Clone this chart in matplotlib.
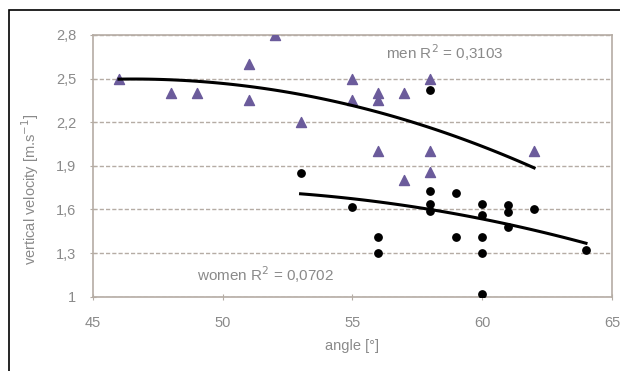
import numpy as np
import matplotlib.pyplot as plt
from matplotlib.patches import Rectangle

plt.rcParams['font.family'] = ['Liberation Sans', 'DejaVu Sans']

# men (triangles)
men_angle = [46, 48, 49, 51, 51, 52, 53, 55, 55, 56, 56, 56, 57, 57, 58, 58, 58, 62]
men_vel = [2.5, 2.4, 2.4, 2.6, 2.35, 2.8, 2.2, 2.5, 2.35, 2.4, 2.35, 2.0, 2.4, 1.8, 2.5, 2.0, 1.86, 2.0]

# women (dots)
women_angle = [53, 55, 56, 56, 58, 58, 58, 58, 59, 59, 60, 60, 60, 60, 60, 61, 61, 61, 62, 64]
women_vel = [1.85, 1.62, 1.41, 1.30, 2.42, 1.73, 1.64, 1.59, 1.71, 1.41, 1.64, 1.56, 1.41, 1.30, 1.02,
             1.63, 1.58, 1.48, 1.60, 1.32]

yticks = [1, 1.3, 1.6, 1.9, 2.2, 2.5, 2.8]
ytick_labels = ["1", "1,3", "1,6", "1,9", "2,2", "2,5", "2,8"]
xticks = [45, 50, 55, 60, 65]

grid_col = "#b5aca4"
txt_col = "#8a8a8a"

fig = plt.figure(figsize=(6.2, 3.71), dpi=100)
ax = fig.add_axes([0.150, 0.200, 0.837, 0.706])

for y in yticks:
    ax.axhline(y, color=grid_col, lw=1.0, ls=(0, (3, 1.5)), zorder=0)

ax.scatter(men_angle, men_vel, marker="^", s=52, color="#6b5b9b", zorder=3)
ax.scatter(women_angle, women_vel, marker="o", s=28, color="black", zorder=3)

# 2nd order trendlines, fitted on the data
for xs, ys in [(men_angle, men_vel), (women_angle, women_vel)]:
    c = np.polyfit(xs, ys, 2)
    xx = np.linspace(min(xs), max(xs), 100)
    ax.plot(xx, np.polyval(c, xx), color="black", lw=2.2, zorder=4)

ax.text(56.3, 2.68, "men R$^2$ = 0,3103", color=txt_col, fontsize=11, ha="left", va="center")
ax.text(49.0, 1.15, "women R$^2$ = 0,0702", color=txt_col, fontsize=11, ha="left", va="center")

ax.set_xlim(45, 65)
ax.set_ylim(1, 2.8)
ax.set_xticks(xticks)
ax.set_yticks(yticks)
ax.set_yticklabels(ytick_labels)
ax.tick_params(colors=grid_col, labelcolor=txt_col, labelsize=10.5, length=4, direction="inout")
ax.tick_params(axis="x", pad=12)
ax.tick_params(axis="y", pad=10)
for s in ax.spines.values():
    s.set_color(grid_col)
    s.set_linewidth(1.2)

ax.set_xlabel("angle [°]", color=txt_col, fontsize=10.5, labelpad=6)
ax.set_ylabel("vertical velocity [m.s$^{-1}$]", color=txt_col, fontsize=10.5)
ax.yaxis.set_label_coords(-0.10, 0.41)

fig.patches.append(Rectangle((9 / 620, -0.1), 1.2, 1 - 10 / 371 + 0.1, transform=fig.transFigure,
                             fill=False, edgecolor="black", lw=1.2))

fig.savefig("out.png", dpi=100)
